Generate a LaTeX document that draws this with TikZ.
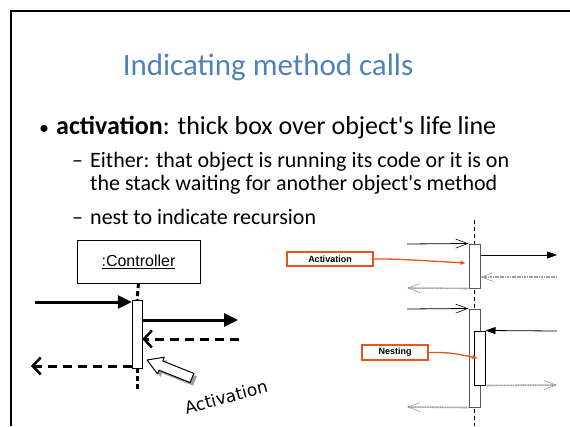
\documentclass[tikz,border=0pt]{standalone}
\usepackage{fontspec}
\setmainfont{Carlito}
\newfontfamily\arialfont{Liberation Sans}
\newfontfamily\handfont{DejaVu Sans}
\usetikzlibrary{arrows.meta}
\definecolor{titleblue}{RGB}{79,129,189}
\definecolor{noteorange}{RGB}{226,88,28}
\tikzset{
  slidetext/.style={anchor=base west,inner sep=0pt},
  objbox/.style={draw,fill=white,minimum width=123pt,minimum height=43pt,font=\arialfont\fontsize{16}{18}\selectfont},
  actbox/.style={draw,fill=white,minimum width=10pt,inner sep=0pt},
  seqbox/.style={draw=black!65,line width=1pt,fill=white,minimum width=11pt,inner sep=0pt},
  notebox/.style={draw=noteorange,line width=1.6pt,fill=white,inner sep=0pt,font=\arialfont\bfseries\fontsize{9}{11}\selectfont},
  thickcall/.style={line width=3pt,-{Triangle[length=14pt,width=13pt]}},
  thickret/.style={line width=3pt,dash pattern=on 9pt off 6pt,-{Straight Barb[length=8pt,width=17pt,line width=2.5pt]}},
  call/.style={line width=0.8pt,-{Straight Barb[length=12pt,width=9pt,line width=0.6pt]}},
  sync/.style={line width=0.8pt,-{Triangle[length=10pt,width=7pt]}},
  ret/.style={draw=gray!75,line width=1.6pt,dash pattern=on 1.2pt off 0.5pt,-{Straight Barb[length=12pt,width=9pt,line width=0.6pt]}},
  notearrow/.style={draw=noteorange,line width=1.3pt,-{Triangle[length=5pt,width=4pt]}}
}

\begin{document}
\begin{tikzpicture}[x=1pt,y=-1pt]
\useasboundingbox (0,0) rectangle (570,426);

% slide frame
\draw[line width=2pt] (11,426) -- (11,11) -- (570,11);

% title and bullets
\node[anchor=base,inner sep=0pt,text=titleblue,font=\fontsize{31}{36}\selectfont] (title) at (268,75) {Indicating method calls};
\node[slidetext,font=\fontsize{20}{24}\selectfont] (dot) at (39,134) {•};
\node[slidetext,font=\fontsize{26}{30}\selectfont] (main) at (56,134) {\textbf{activation}: thick box over object\textquotesingle s life line};
\node[slidetext,font=\fontsize{22}{26}\selectfont] (dashA) at (72,167) {–};
\node[slidetext,font=\fontsize{22}{26}\selectfont] (lineA) at (90,167) {Either: that object is running its code or it is on};
\node[slidetext,font=\fontsize{22}{26}\selectfont] (lineB) at (90,190) {the stack waiting for another object\textquotesingle s method};
\node[slidetext,font=\fontsize{22}{26}\selectfont] (dashC) at (72,224) {–};
\node[slidetext,font=\fontsize{22}{26}\selectfont] (lineC) at (90,224) {nest to indicate recursion};

%%% left: controller with activation
\node[objbox] (ctrl) at (138.5,261.5) {\underline{:Controller}};
\node[actbox,minimum height=68pt] (lact) at (137,334) {};
\coordinate (lend) at (137,392);
\draw[line width=3pt,dash pattern=on 5pt off 3pt] (ctrl.south) -- (lact.north);
\draw[line width=3pt,dash pattern=on 5pt off 3pt] (lact.south) -- (lend);

\coordinate (lin) at (35,302);
\coordinate (lout) at (238,320);
\coordinate (lret) at (239,339);
\coordinate (lback) at (31,366);
\draw[thickcall] (lin) -- (lin -| lact.west);
\draw[thickcall] (lout -| lact.east) -- (lout);
\draw[thickret] (lret) -- (lret -| lact.east);
\draw[thickret] (lback -| lact.west) -- (lback);

% hollow pointer with its shade
\fill[gray!75] (150,363) -- (167.2,360.2) -- (165.8,364) -- (196.9,376.4) -- (193.1,385.6) -- (162,373.2) -- (160.6,376.9) -- cycle;
\draw[line width=1pt,fill=white,line join=round] (147,360) -- (164.2,357.2) -- (162.8,361) -- (193.9,373.4) -- (190.1,382.6) -- (159,370.2) -- (157.6,373.9) -- cycle;
\node[font=\handfont\fontsize{17}{19}\selectfont,rotate=15,inner sep=0pt] (hintlabel) at (226,397) {Activation};

%%% right: activation and nesting
\coordinate (rtop) at (474,220);
\coordinate (rbot) at (474,426);
\draw[line width=0.8pt,dash pattern=on 4pt off 3pt] (rtop) -- (rbot);

\node[seqbox,minimum height=44pt] (act1) at (474.5,266) {};
\node[seqbox,minimum height=98pt] (act2) at (474.5,358) {};
\node[seqbox,draw=black,minimum height=54pt] (nest) at (479.5,358) {};

\coordinate (c1) at (407,244);
\coordinate (o1) at (557,255);
\coordinate (r1) at (557,277);
\coordinate (b1) at (407,288);
\coordinate (c2) at (407,309);
\coordinate (n1) at (557,331);
\coordinate (n2) at (557,385);
\coordinate (b2) at (407,407);

\draw[call] (c1) -- (act1.north west);
\draw[sync] (o1 -| act1.east) -- (o1);
\draw[ret] (r1) -- (r1 -| act1.east);
\draw[ret] (act1.south west) -- (b1);
\draw[call] (c2) -- (act2.north west);
\draw[sync] (n1) -- (nest.north east);
\draw[ret] (nest.south east) -- (n2);
\draw[ret] (act2.south west) -- (b2);

\node[notebox,minimum width=86pt,minimum height=14pt] (actnote) at (330,259) {Activation};
\node[notebox,minimum width=66pt,minimum height=15pt] (nestnote) at (395,352.5) {Nesting};
\draw[notearrow] (actnote.east) .. controls +(22pt,0pt) .. ([xshift=-3pt,yshift=3pt]act1.west);
\draw[notearrow] (nestnote.east) .. controls +(20pt,0pt) .. ([xshift=4pt]nest.west);
\end{tikzpicture}
\end{document}
